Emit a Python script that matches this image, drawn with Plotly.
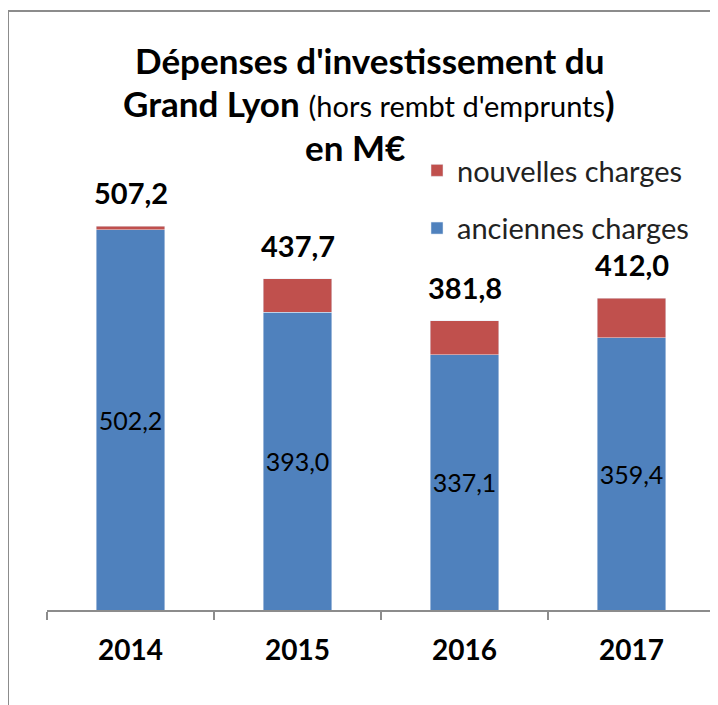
import plotly.graph_objects as go

years = ["2014", "2015", "2016", "2017"]
anciennes = [502.2, 393.0, 337.1, 359.4]
nouvelles = [5.0, 44.7, 44.7, 52.6]
totals = [507.2, 437.7, 381.8, 412.0]

BLUE = "#4F81BD"
RED = "#C0504D"
GRAY = "#8C8C8C"
FONT = "Lato"

W, H = 718, 705
OFF = 8  # page body margin in the browser
ML, MR, MT, MB = 39, 11, 92, 103
PW, PH = W - ML - MR, H - MT - MB


def px_x(p):
    return (p - OFF - ML) / PW


def px_y(p):
    return (H - MB - (p - OFF)) / PH


fig = go.Figure()
fig.add_trace(go.Bar(
    x=years, y=anciennes, name="anciennes charges", marker_color=BLUE,
    legendgroup="a", legendrank=2,
    texttemplate="%{y:.1f}", textposition="inside", insidetextanchor="middle",
    textangle=0, constraintext="none",
    textfont=dict(family=FONT, size=25, color="black"),
    hoverinfo="skip",
))
fig.add_trace(go.Bar(
    x=years, y=nouvelles, name="nouvelles charges", marker_color=RED,
    legendgroup="n", legendrank=1, hoverinfo="skip",
))

annotations = []
for i, t in enumerate(totals):
    annotations.append(dict(
        x=i, y=t, xref="x", yref="y", text="<b>%s</b>" % f"{t:.1f}".replace(".", ","),
        showarrow=False, yanchor="bottom", yshift=14,
        font=dict(family=FONT, size=29, color="black"),
    ))

title_lines = [
    ("<b>Dépenses d'investissement du</b>", 369, 60),
    ("<b>Grand Lyon</b> <span style='font-size:29px'>(hors rembt d'emprunts</span><b>)</b>", 369, 103),
    ("<b>en M€</b>", 355, 147),
]
for txt, cx, cy in title_lines:
    annotations.append(dict(
        x=px_x(cx), y=px_y(cy), xref="paper", yref="paper", text=txt,
        showarrow=False, xanchor="center", yanchor="middle",
        font=dict(family=FONT, size=35, color="black"),
    ))

fig.update_layout(
    width=W, height=H,
    margin=dict(l=ML, r=MR, t=MT, b=MB),
    paper_bgcolor="white", plot_bgcolor="white",
    barmode="stack", bargap=0.59,
    separators=", ",
    font=dict(family=FONT, color="black"),
    showlegend=True,
    legend=dict(
        x=px_x(417), y=px_y(145), xanchor="left", yanchor="top",
        traceorder="grouped", tracegroupgap=17,
        font=dict(family=FONT, size=29, color="#222"),
        bgcolor="rgba(0,0,0,0)",
    ),
    xaxis=dict(
        type="category", range=[-0.5, len(years) - 0.5],
        showline=True, linecolor=GRAY, linewidth=2,
        ticks="outside", tickson="boundaries", ticklen=8, tickcolor=GRAY, tickwidth=2,
        tickfont=dict(family=FONT, size=28, color="black"),
        tickprefix="<b>", ticksuffix="</b>", ticklabelstandoff=14,
        showgrid=False, zeroline=False, fixedrange=True,
    ),
    yaxis=dict(
        range=[0, PH / (384 / 507.2)], visible=False, showgrid=False, fixedrange=True,
    ),
    annotations=annotations,
    shapes=[dict(
        type="rect", xref="paper", yref="paper",
        x0=px_x(8), x1=px_x(760), y0=px_y(760), y1=px_y(11),
        line=dict(color=GRAY, width=2), fillcolor="rgba(0,0,0,0)", layer="below",
    )],
)

fig.write_html("out.html")
